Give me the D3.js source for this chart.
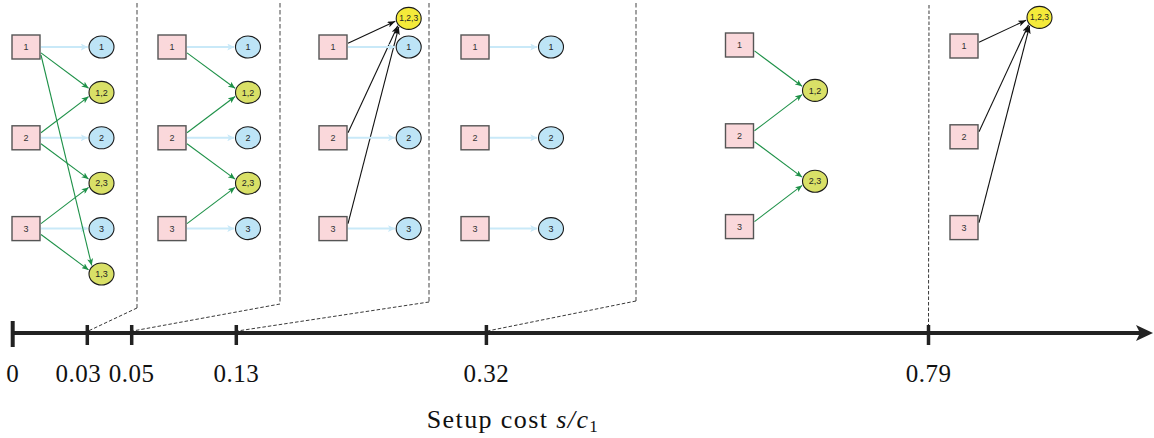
<!DOCTYPE html>
<html><head><meta charset="utf-8">
<script src="https://cdn.jsdelivr.net/npm/d3@7"></script>
<style>
html,body{margin:0;padding:0;background:#fff;}
svg{display:block;}
</style></head>
<body>
<svg id="chart" width="1154" height="438"></svg>
<script>
// ---------- data ----------
const thresholds = [0, 0.03, 0.05, 0.13, 0.32, 0.79];
const tickLabels = ["0", "0.03", "0.05", "0.13", "0.32", "0.79"];
const customers = ["1", "2", "3"];
const panelGroups = [
  ["1", "1,2", "2", "2,3", "3", "1,3"],
  ["1", "1,2", "2", "2,3", "3"],
  ["1,2,3", "1", "2", "3"],
  ["1", "2", "3"],
  ["1,2", "2,3"],
  ["1,2,3"]
];
const axisTitle = "Setup cost ";

// ---------- layout ----------
const W = 1154, H = 438;
const svg = d3.select("#chart");
const axisY = 333;
const rowOf = {"1":0, "1,2":1, "2":2, "2,3":3, "3":4, "1,3":5, "1,2,3":-0.63};
const custRow = {"1":0, "2":2, "3":4};
const yRow = d3.scaleLinear().domain([0, 5]).range([47, 274]);
const panelBoxX = [26, 172, 333, 475, 739.5, 964];
const panelCircX = [101.5, 248, 408.7, 551, 815, 1039.5];
const panelDy = [0, 0, 0, 0, -2, -1];
const tickX = [12.7, 87.3, 131.7, 236.3, 486.4, 928.5];
const x = d3.scaleLinear().domain(thresholds).range(tickX);
const sepX = [137, 280, 429, 636, 929];
const sepBottom = [308, 304, 302, 301, axisY];
const labelDx = [0, -9, 0, 0, 0, 0];

const boxW = 28, boxH = 24, rx = 12.5, ry = 11;
const colors = {
  box: "#fad8db", boxStroke: "#555",
  single: "#bde4f6", pair: "#d9e067", triple: "#f4ea3a",
  blueEdge: "#c9e9f8", greenEdge: "#1e9148", blackEdge: "#111"
};

// markers
const defs = svg.append("defs");
function marker(id, color, len, wid) {
  defs.append("marker").attr("id", id)
    .attr("markerUnits", "userSpaceOnUse")
    .attr("viewBox", `0 0 ${len} ${wid}`)
    .attr("markerWidth", len).attr("markerHeight", wid)
    .attr("refX", len).attr("refY", wid / 2).attr("orient", "auto")
    .append("path").attr("d", `M0,0 L${len},${wid/2} L0,${wid} L${len*0.25},${wid/2} Z`)
    .attr("fill", color);
}
marker("mBlue", colors.blueEdge, 7, 7);
marker("mGreen", colors.greenEdge, 7, 6);
marker("mBlack", colors.blackEdge, 8, 6);

// ---------- separators ----------
const sepG = svg.append("g");
sepX.forEach((sx, i) => {
  const tx = x(thresholds[i + 1]);
  if (i < 4) {
    sepG.append("line").attr("x1", sx).attr("x2", sx).attr("y1", 3).attr("y2", sepBottom[i])
      .attr("stroke", "#555").attr("stroke-width", 1.1).attr("stroke-dasharray", "4.5,2.5");
    sepG.append("line").attr("x1", sx).attr("y1", sepBottom[i]).attr("x2", tx + 1).attr("y2", axisY - 2)
      .attr("stroke", "#222").attr("stroke-width", 0.9).attr("stroke-dasharray", "3.5,2");
  } else {
    sepG.append("line").attr("x1", sx).attr("x2", tx).attr("y1", 5).attr("y2", axisY - 2)
      .attr("stroke", "#222").attr("stroke-width", 0.9).attr("stroke-dasharray", "3.5,2");
  }
});

// ---------- panels ----------
const clamp = (v, a, b) => Math.max(a, Math.min(b, v));
panelGroups.forEach((groups, p) => {
  const g = svg.append("g");
  const bx = panelBoxX[p], cx = panelCircX[p], dy = panelDy[p];
  const nodes = groups.map(k => ({key: k, members: k.split(","), x: cx, y: yRow(rowOf[k]) + dy}));
  const edges = [];
  nodes.forEach(n => n.members.forEach(m => edges.push({from: m, to: n})));

  // edges
  edges.forEach(e => {
    const sy0 = yRow(custRow[e.from]) + dy;
    const t = e.to;
    const dyy = t.y - sy0;
    const sx = bx + boxW / 2 + 1;
    const sy = Math.abs(dyy) < 1 ? sy0 : sy0 + clamp(dyy * 0.13, -5, 8);
    const ang = Math.atan2(t.y - sy, t.x - sx);
    const a = Math.sign(ang) * Math.min(Math.abs(ang) * 0.6, 0.9);
    const ex = t.x - rx * 1.1 * Math.cos(a);
    const ey = t.y - ry * 1.1 * Math.sin(a);
    const n = t.members.length;
    const col = n === 1 ? colors.blueEdge : n === 2 ? colors.greenEdge : colors.blackEdge;
    const mk = n === 1 ? "mBlue" : n === 2 ? "mGreen" : "mBlack";
    g.append("line").attr("x1", sx).attr("y1", sy).attr("x2", ex).attr("y2", ey)
      .attr("stroke", col).attr("stroke-width", n === 1 ? 2 : 1.1)
      .attr("marker-end", `url(#${mk})`);
  });

  // boxes
  customers.forEach(c => {
    const cy = yRow(custRow[c]) + dy;
    g.append("rect").attr("x", bx - boxW / 2).attr("y", cy - boxH / 2)
      .attr("width", boxW).attr("height", boxH)
      .attr("fill", colors.box).attr("stroke", colors.boxStroke).attr("stroke-width", 1.4);
    g.append("text").attr("x", bx).attr("y", cy).attr("dy", "0.35em")
      .attr("text-anchor", "middle").attr("font-family", "Liberation Sans, Arial, sans-serif")
      .attr("font-size", 9).attr("fill", "#333").text(c);
  });

  // circles
  nodes.forEach(n => {
    const m = n.members.length;
    g.append("ellipse").attr("cx", n.x).attr("cy", n.y).attr("rx", rx).attr("ry", ry)
      .attr("fill", m === 1 ? colors.single : m === 2 ? colors.pair : colors.triple)
      .attr("stroke", "#1a1a1a").attr("stroke-width", 1.1);
    g.append("text").attr("x", n.x).attr("y", n.y).attr("dy", "0.35em")
      .attr("text-anchor", "middle").attr("font-family", "Liberation Sans, Arial, sans-serif")
      .attr("font-size", m === 3 ? 8.5 : 9).attr("fill", "#222").text(n.key);
  });
});

// ---------- axis ----------
const ax = svg.append("g");
const tipX = 1153;
ax.append("line").attr("x1", x(0)).attr("x2", tipX - 8).attr("y1", axisY).attr("y2", axisY)
  .attr("stroke", "#222").attr("stroke-width", 4);
ax.append("path")
  .attr("d", `M${tipX},${axisY} L${tipX - 17},${axisY - 8} L${tipX - 13},${axisY} L${tipX - 17},${axisY + 8} Z`)
  .attr("fill", "#222");
thresholds.forEach((t, i) => {
  const tx = x(t);
  ax.append("line").attr("x1", tx).attr("x2", tx)
    .attr("y1", i === 0 ? 321 : 325).attr("y2", i === 0 ? 347 : 345)
    .attr("stroke", "#222").attr("stroke-width", i === 0 ? 4 : 3.5);
  ax.append("text").attr("x", tx + labelDx[i]).attr("y", 382)
    .attr("text-anchor", "middle").attr("font-family", "Liberation Serif, DejaVu Serif, serif")
    .attr("font-size", 25).attr("letter-spacing", 0.5).attr("fill", "#111").text(tickLabels[i]);
});

const title = ax.append("text").attr("x", 513).attr("y", 428)
  .attr("text-anchor", "middle").attr("font-family", "Liberation Serif, DejaVu Serif, serif")
  .attr("font-size", 26).attr("letter-spacing", 1.4).attr("fill", "#111");
title.append("tspan").text(axisTitle);
title.append("tspan").attr("font-style", "italic").text("s/c");
title.append("tspan").attr("font-size", 17).attr("dy", 4).text("1");
</script>
</body></html>
